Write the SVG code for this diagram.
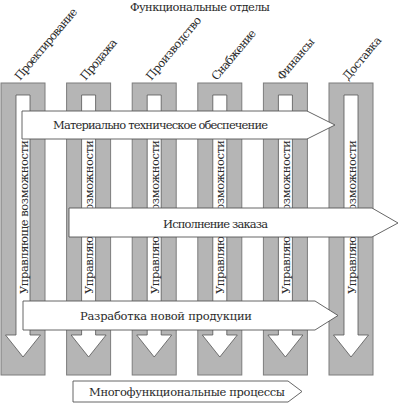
<svg xmlns="http://www.w3.org/2000/svg" xmlns:xlink="http://www.w3.org/1999/xlink" width="399" height="403" viewBox="0 0 399 403">
<style>
text{font-family:'DejaVu Serif',serif;fill:#2a2a2a;font-size:11.5px}
.col{fill:#b5b5b5;stroke:#7d7d7d;stroke-width:1}
.inner{fill:#ffffff;stroke:#555;stroke-width:0.8}
.proc{fill:#ffffff;stroke:#555;stroke-width:0.9}
.mid{text-anchor:middle}
</style>
<defs>
<path id="downArrow" d="M15,95 H29 V335 H39.5 L22,357 L4.5,335 H15 Z"/>
</defs>
<text class="mid" x="200" y="11" textLength="140">Функциональные отделы</text>
<g id="col-proektirovanie" transform="translate(1,0)">
<rect class="col" x="0" y="83" width="44" height="292"/>
<use class="inner" xlink:href="#downArrow"/>
<text transform="translate(26.5,294) rotate(-90)" textLength="154">Управляюще возможности</text>
<text transform="translate(19,81) rotate(-50)" textLength="90">Проектирование</text>
</g>
<g id="col-prodazha" transform="translate(66.6,0)">
<rect class="col" x="0" y="83" width="44" height="292"/>
<use class="inner" xlink:href="#downArrow"/>
<text transform="translate(26.5,294) rotate(-90)" textLength="154">Управляюще возможности</text>
<text transform="translate(19,81) rotate(-50)" textLength="50">Продажа</text>
</g>
<g id="col-proizvodstvo" transform="translate(132.2,0)">
<rect class="col" x="0" y="83" width="44" height="292"/>
<use class="inner" xlink:href="#downArrow"/>
<text transform="translate(26.5,294) rotate(-90)" textLength="154">Управляюще возможности</text>
<text transform="translate(19,81) rotate(-50)" textLength="79">Производство</text>
</g>
<g id="col-snabzhenie" transform="translate(197.8,0)">
<rect class="col" x="0" y="83" width="44" height="292"/>
<use class="inner" xlink:href="#downArrow"/>
<text transform="translate(26.5,294) rotate(-90)" textLength="154">Управляюще возможности</text>
<text transform="translate(19,81) rotate(-50)" textLength="62">Снабжение</text>
</g>
<g id="col-finansy" transform="translate(263.4,0)">
<rect class="col" x="0" y="83" width="44" height="292"/>
<use class="inner" xlink:href="#downArrow"/>
<text transform="translate(26.5,294) rotate(-90)" textLength="154">Управляюще возможности</text>
<text transform="translate(19,81) rotate(-50)" textLength="51">Финансы</text>
</g>
<g id="col-dostavka" transform="translate(329,0)">
<rect class="col" x="0" y="83" width="44" height="292"/>
<use class="inner" xlink:href="#downArrow"/>
<text transform="translate(26.5,294) rotate(-90)" textLength="154">Управляюще возможности</text>
<text transform="translate(19,81) rotate(-50)" textLength="53">Доставка</text>
</g>
<g id="connectors">
<g id="proc-mto">
<path class="proc" d="M22,111 H307 L335,125 L307,139 H22 Z"/>
<text class="mid" x="160.5" y="129" textLength="215">Материально техническое обеспечение</text>
</g>
<g id="proc-zakaz">
<path class="proc" d="M69,208 H372 L398,223 L372,237 H69 Z"/>
<text class="mid" x="215.5" y="228" textLength="105">Исполнение заказа</text>
</g>
<g id="proc-razrabotka">
<path class="proc" d="M23,301 H315 L338,315.5 L315,330 H23 Z"/>
<text class="mid" x="166" y="320" textLength="172">Разработка новой продукции</text>
</g>
<g id="proc-multi">
<path class="proc" d="M73,381 H288 L302,391.5 L288,402 H73 Z"/>
<text class="mid" x="187" y="396" textLength="196">Многофункциональные процессы</text>
</g>
</g>
</svg>
